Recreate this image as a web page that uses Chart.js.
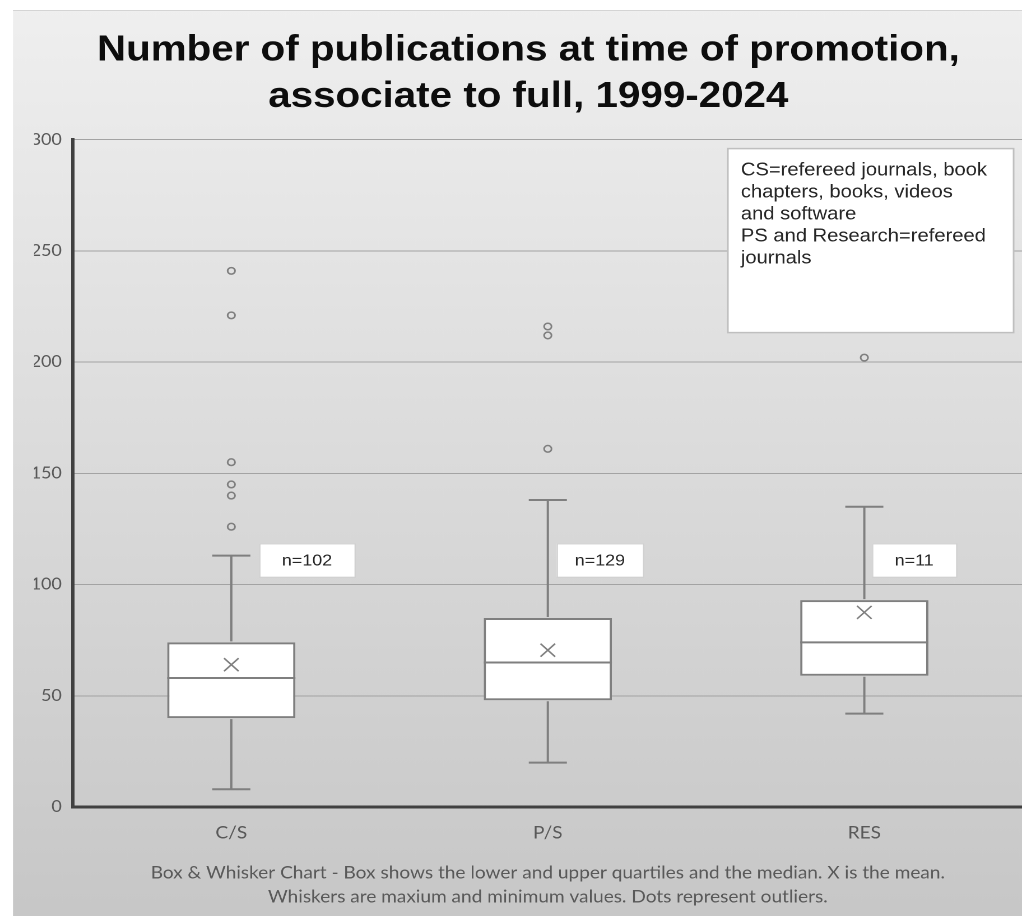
<!DOCTYPE html>
<html>
<head>
<meta charset="utf-8">
<script src="https://cdn.jsdelivr.net/npm/chart.js@4.4.1/dist/chart.umd.min.js"></script>
<style>
  html, body { margin: 0; padding: 0; background: #fff; overflow: hidden; }
  /* the reference is a little stretched sideways, so the chart is drawn narrower and widened */
  #wrap { width: 912.5px; height: 916px; transform: scaleX(1.12); transform-origin: 0 0; }
</style>
</head>
<body>
<div id="wrap"><canvas id="graficoCaixas"></canvas></div>
<script>
// dados
const categorias = ['C/S', 'P/S', 'RES'];
const minimos = [8, 20, 42];
const quartil1 = [40, 48, 59];
const medianas = [58, 65, 74];
const quartil3 = [74, 85, 93];
const maximos = [113, 138, 135];
const medias = [64, 70.5, 87.5];
const outliersCS = [241, 221, 155, 145, 140, 126];
const outliersPS = [216, 212, 161];
const outliersRES = [202];
const contagens = [102, 129, 11];
const yTicks = [0, 50, 100, 150, 200, 250, 300];

const notaTexto = [
    'CS=refereed journals, book',
    'chapters, books, videos',
    'and software',
    'PS and Research=refereed',
    'journals'
];
const rodape = [
    'Box & Whisker Chart - Box shows the lower and upper quartiles and the median. X is the mean.',
    'Whiskers are maxium and minimum values. Dots represent outliers.'
];

const cinza = '#7f7f7f';

const fundo = {
    id: 'fundo',
    beforeDraw(chart) {
        const ctx = chart.ctx;
        ctx.save();
        ctx.fillStyle = '#ffffff';
        ctx.fillRect(0, 0, chart.width, chart.height);
        const g = ctx.createLinearGradient(0, 10, 0, chart.height);
        g.addColorStop(0, '#efefef');
        g.addColorStop(1, '#c7c7c7');
        ctx.fillStyle = g;
        ctx.fillRect(11.6, 10, chart.width - 11.6, chart.height - 10);
        ctx.strokeStyle = '#d4d4d4';
        ctx.lineWidth = 1;
        ctx.beginPath();
        ctx.moveTo(11.6, 10.5);
        ctx.lineTo(chart.width, 10.5);
        ctx.stroke();
        ctx.restore();
    }
};

function linha(ctx, x1, y1, x2, y2) {
    ctx.beginPath();
    ctx.moveTo(x1, y1);
    ctx.lineTo(x2, y2);
    ctx.stroke();
}

const bigodes = {
    id: 'bigodes',
    afterDatasetsDraw(chart) {
        const ctx = chart.ctx;
        const y = chart.scales.y;
        const meta = chart.getDatasetMeta(0);
        ctx.save();
        ctx.strokeStyle = cinza;
        ctx.lineWidth = 2;
        meta.data.forEach((bar, i) => {
            const cx = bar.x;
            const meia = bar.width / 2;
            const yMed = y.getPixelForValue(medianas[i]);
            linha(ctx, cx - meia, yMed, cx + meia, yMed);
            const yMax = y.getPixelForValue(maximos[i]);
            const yMin = y.getPixelForValue(minimos[i]);
            linha(ctx, cx, yMax, cx, y.getPixelForValue(quartil3[i]) - 1);
            linha(ctx, cx, y.getPixelForValue(quartil1[i]) + 1, cx, yMin);
            linha(ctx, cx - 17, yMax, cx + 17, yMax);
            linha(ctx, cx - 17, yMin, cx + 17, yMin);
        });
        ctx.restore();
    }
};

// caixas "n=" e a nota
const rotulos = {
    id: 'rotulos',
    afterDraw(chart) {
        const ctx = chart.ctx;
        const y = chart.scales.y;
        const meta = chart.getDatasetMeta(0);
        const desloc = [[25, 85], [8, 77], [7, 75]];
        ctx.save();
        const topo = y.getPixelForValue(118.5);
        const base = y.getPixelForValue(103.5);
        meta.data.forEach((bar, i) => {
            const x0 = bar.x + desloc[i][0];
            const w = desloc[i][1];
            ctx.fillStyle = '#ffffff';
            ctx.fillRect(x0, topo, w, base - topo);
            ctx.strokeStyle = '#d0d0d0';
            ctx.lineWidth = 1;
            ctx.strokeRect(x0 + 0.5, topo + 0.5, w, base - topo);
            ctx.fillStyle = '#262626';
            ctx.font = '16px "Liberation Sans", Arial, sans-serif';
            ctx.textAlign = 'center';
            ctx.textBaseline = 'middle';
            ctx.fillText('n=' + contagens[i], x0 + w / 2, (topo + base) / 2 + 1);
        });

        const a = chart.chartArea;
        const bx = a.right - 263, by = a.top + 9, bw = 255, bh = 184;
        ctx.fillStyle = '#ffffff';
        ctx.fillRect(bx, by, bw, bh);
        ctx.strokeStyle = '#bfbfbf';
        ctx.lineWidth = 1.5;
        ctx.strokeRect(bx, by, bw, bh);
        ctx.fillStyle = '#262626';
        ctx.font = '18px "Liberation Sans", Arial, sans-serif';
        ctx.textAlign = 'left';
        ctx.textBaseline = 'middle';
        notaTexto.forEach((t, k) => ctx.fillText(t, bx + 11.6, by + 22 + k * 22));
        ctx.restore();
    }
};

const ctxCanvas = document.getElementById('graficoCaixas');

new Chart(ctxCanvas, {
    data: {
        labels: categorias,
        datasets: [
            {
                type: 'bar',
                label: 'Quartis',
                data: quartil1.map((v, i) => [v, quartil3[i]]),
                backgroundColor: '#ffffff',
                borderColor: cinza,
                borderWidth: 2,
                borderSkipped: false,
                categoryPercentage: 1,
                barPercentage: 0.405,
                order: 3
            },
            {
                type: 'line',
                label: 'Media',
                data: medias.map((v, i) => ({ x: categorias[i], y: v })),
                showLine: false,
                pointStyle: 'crossRot',
                pointRadius: 9.2,
                borderColor: cinza,
                borderWidth: 1.5,
                order: 1
            },
            {
                type: 'line',
                label: 'Outliers',
                data: [
                    ...outliersCS.map(v => ({ x: 'C/S', y: v })),
                    ...outliersPS.map(v => ({ x: 'P/S', y: v })),
                    ...outliersRES.map(v => ({ x: 'RES', y: v }))
                ],
                showLine: false,
                pointStyle: 'circle',
                pointRadius: 3.3,
                borderColor: cinza,
                backgroundColor: 'rgba(0,0,0,0)',
                borderWidth: 1.5,
                order: 2
            }
        ]
    },
    options: {
        responsive: true,
        maintainAspectRatio: false,
        animation: false,
        devicePixelRatio: 2,
        layout: {
            autoPadding: false,
            padding: { top: 10, bottom: 7, left: 30.4, right: 0 }
        },
        plugins: {
            legend: { display: false },
            tooltip: { enabled: false },
            title: {
                display: true,
                text: ['Number of publications at time of promotion,', 'associate to full, 1999-2024'],
                color: '#0d0d0d',
                font: { family: '"Liberation Sans", Arial, sans-serif', size: 36, weight: 'bold', lineHeight: 1.3 },
                padding: { top: 17, bottom: 19 }
            }
        },
        scales: {
            x: {
                grid: { display: false, drawTicks: false },
                border: { color: '#404040', width: 3 },
                ticks: {
                    padding: 16,
                    color: '#595959',
                    font: { family: 'Lato, sans-serif', size: 17 }
                },
                title: {
                    display: true,
                    text: rodape,
                    color: '#595959',
                    font: { family: 'Lato, sans-serif', size: 17, lineHeight: 1.41 },
                    padding: { top: 1.6, bottom: 0 }
                }
            },
            y: {
                min: 0,
                max: 300,
                afterFit(scale) { scale.width = 34.8; },
                afterBuildTicks(scale) { scale.ticks = yTicks.map(v => ({ value: v })); },
                grid: { color: '#a3a3a3', lineWidth: 1, drawTicks: false },
                border: { color: '#404040', width: 3 },
                ticks: {
                    padding: 10,
                    color: '#595959',
                    font: { family: 'Lato, sans-serif', size: 16 }
                }
            }
        }
    },
    plugins: [fundo, bigodes, rotulos]
});
</script>
</body>
</html>
